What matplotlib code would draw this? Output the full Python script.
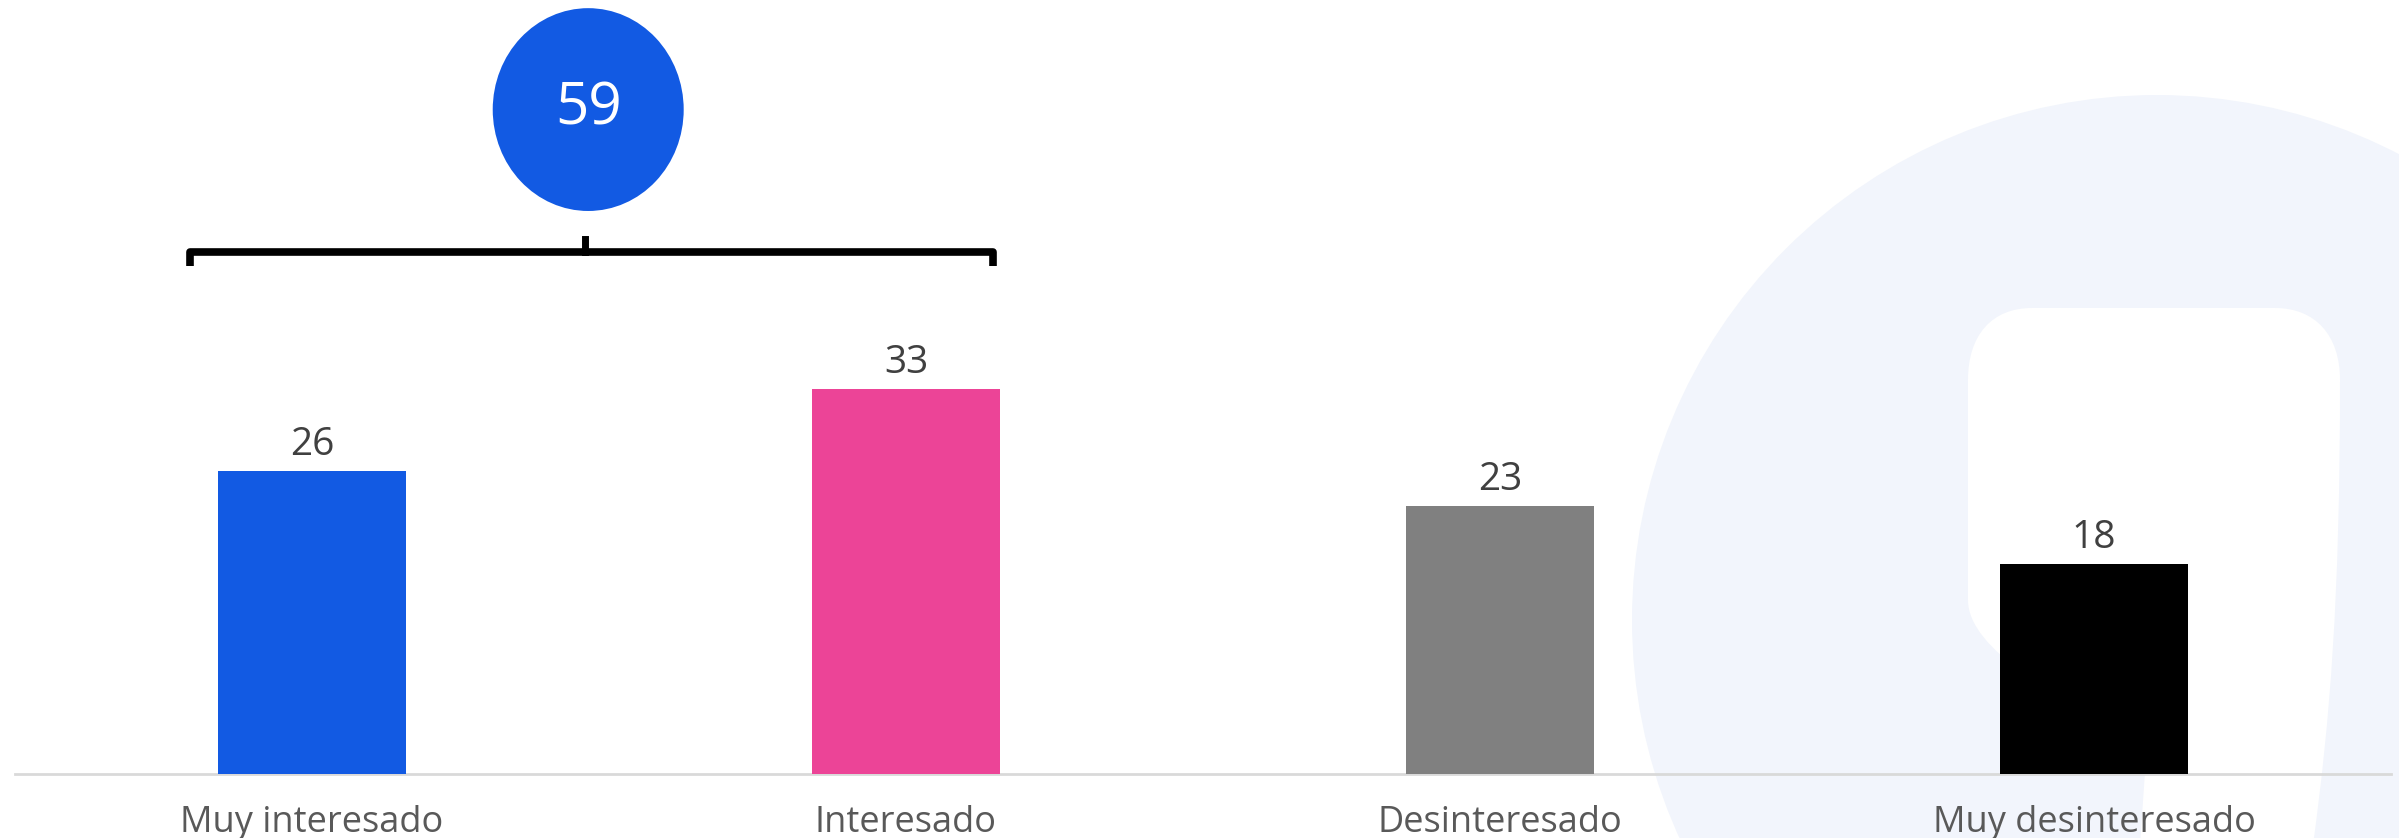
import matplotlib
matplotlib.use("Agg")
import matplotlib.pyplot as plt
from matplotlib.patches import Circle, Ellipse, PathPatch
from matplotlib.path import Path
from matplotlib.transforms import IdentityTransform

# datos
categorias = ["Muy interesado", "Interesado", "Desinteresado", "Muy desinteresado"]
valores = [26, 33, 23, 18]
colores = ["#125AE3", "#EC4497", "#808080", "#000000"]
grupo = [0, 1]  # barras agrupadas por la llave

plt.rcParams["font.family"] = ["Open Sans", "DejaVu Sans"]

W, H = 2399, 838
fig = plt.figure(figsize=(W / 100, H / 100), dpi=100)
fig.patch.set_facecolor("white")

# marca de agua de fondo (en pixeles)
def py(y):
    return H - y

fig.patches.append(Circle((2157, py(620)), 525, transform=IdentityTransform(),
                          facecolor="#F2F5FC", edgecolor="none", zorder=-3))
verts = [(1968, py(380)), (1968, py(600)),
         (1968, py(650)), (2060, py(700)), (2147, py(743)),
         (2140, py(845)),
         (2313, py(845)),
         (2330, py(720)), (2340, py(600)), (2340, py(380)),
         (2340, py(335)), (2315, py(308)), (2275, py(308)),
         (2032, py(308)),
         (1992, py(308)), (1968, py(335)), (1968, py(380)),
         (1968, py(380))]
codes = [Path.MOVETO, Path.LINETO,
         Path.CURVE4, Path.CURVE4, Path.CURVE4,
         Path.LINETO,
         Path.LINETO,
         Path.CURVE4, Path.CURVE4, Path.CURVE4,
         Path.CURVE4, Path.CURVE4, Path.CURVE4,
         Path.LINETO,
         Path.CURVE4, Path.CURVE4, Path.CURVE4,
         Path.CLOSEPOLY]
fig.patches.append(PathPatch(Path(verts, codes), transform=IdentityTransform(),
                             facecolor="white", edgecolor="none", zorder=-2))

ax = fig.add_axes([15 / W, 64 / H, 2376 / W, 774 / H])
ax.set_zorder(1)
ax.patch.set_visible(False)

x = list(range(len(categorias)))
bars = ax.bar(x, valores, width=0.315, color=colores, zorder=3)

for xi, v in zip(x, valores):
    ax.annotate(str(v), (xi, v), xytext=(0, 19), textcoords="offset points",
                ha="center", va="center", fontsize=28, color="#404040")

ax.set_xlim(-0.5, 3.5)
ax.set_ylim(0, 66.4)
ax.set_xticks(x)
ax.set_xticklabels(categorias, fontsize=26, color="#595959")
ax.tick_params(axis="x", length=0, pad=22)
ax.set_yticks([])
for s in ["top", "right", "left"]:
    ax.spines[s].set_visible(False)
ax.spines["bottom"].set_color("#D9D9D9")
ax.spines["bottom"].set_linewidth(2)

# llave y burbuja con la suma
total = sum(valores[i] for i in grupo)
x0, x1, xc = -0.205, 1.146, 0.46
yb = 44.8
ax.plot([x0, x0, x1, x1], [43.6, yb, yb, 43.6], color="black", lw=5.5,
        solid_joinstyle="round", solid_capstyle="butt", zorder=4)
ax.plot([xc, xc], [yb, 45.9], color="black", lw=5, zorder=4)
ax.add_patch(Ellipse((0.465, 57.0), 0.3215, 17.4, facecolor="#125AE3",
                     edgecolor="none", zorder=4))
ax.text(0.465, 57.0, str(total), ha="center", va="center", fontsize=42,
        color="white", zorder=5)

fig.savefig("out.png", dpi=100)
